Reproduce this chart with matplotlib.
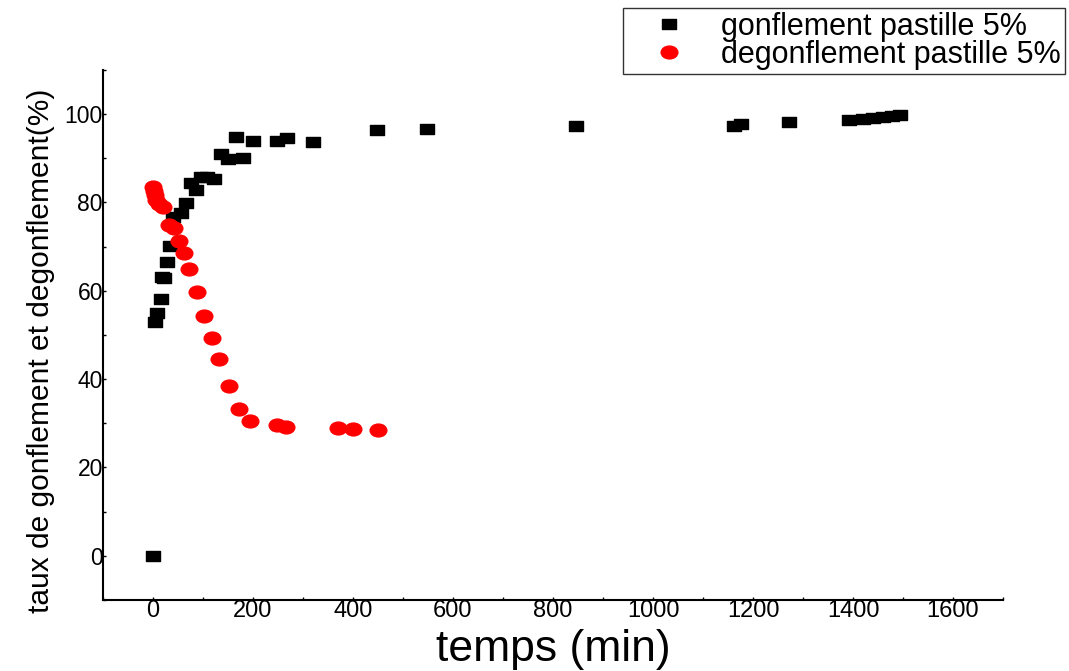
import numpy as np
import matplotlib
matplotlib.use("Agg")
import matplotlib.pyplot as plt
from matplotlib.path import Path
from matplotlib.transforms import Affine2D
from matplotlib.ticker import MultipleLocator

# gonflement (swelling) - time in min, rate in %
t_gonf = [0, 4, 8, 16, 18, 22, 28, 34, 41, 56, 66, 76, 86, 96, 109, 122,
          136, 151, 166, 181, 201, 249, 268, 321, 449, 549, 846, 1161,
          1175, 1272, 1392, 1420, 1440, 1460, 1478, 1494]
y_gonf = [0, 53.0, 55.0, 58.1, 63.2, 62.8, 66.6, 70.2, 76.6, 77.5, 79.8,
          84.4, 82.8, 85.8, 85.8, 85.2, 90.9, 89.9, 94.9, 90.1, 93.9, 94.0,
          94.6, 93.7, 96.3, 96.7, 97.2, 97.4, 97.7, 98.3, 98.7, 99.0, 99.2,
          99.4, 99.5, 99.7]

# degonflement (deswelling)
t_degonf = [0, 2, 4, 7, 12, 20, 33, 43, 53, 63, 73, 88, 102, 118, 133,
            153, 173, 194, 249, 266, 370, 400, 450]
y_degonf = [83.5, 82.6, 81.6, 80.6, 79.6, 79.0, 74.9, 74.3, 71.3, 68.6,
            64.9, 59.8, 54.4, 49.2, 44.5, 38.4, 33.3, 30.5, 29.6, 29.2,
            28.9, 28.8, 28.5]

# markers look a bit wider than tall in the original
square = Path.unit_rectangle().transformed(Affine2D().translate(-0.5, -0.5).scale(1.27, 1.0))
ellipse = Path.unit_circle().transformed(Affine2D().scale(1.3, 1.0))

plt.rcParams['font.family'] = ['Liberation Sans', 'DejaVu Sans']

fig = plt.figure(figsize=(10.69, 6.71), dpi=100)
ax = fig.add_axes([0.0963, 0.1058, 0.842, 0.790])

ax.plot(t_gonf, y_gonf, linestyle='none', marker=square, markersize=10,
        color='black', label='gonflement pastille 5%')
ax.plot(t_degonf, y_degonf, linestyle='none', marker=ellipse, markersize=12,
        color='red', label='degonflement pastille 5%')

ax.set_xlim(-100, 1700)
ax.set_ylim(-10, 110)
ax.xaxis.set_major_locator(MultipleLocator(200))
ax.xaxis.set_minor_locator(MultipleLocator(100))
ax.yaxis.set_major_locator(MultipleLocator(20))
ax.yaxis.set_minor_locator(MultipleLocator(10))

for s in ['top', 'right']:
    ax.spines[s].set_visible(False)
for s in ['left', 'bottom']:
    ax.spines[s].set_linewidth(1.5)

ax.tick_params(which='both', direction='in', length=2, width=1, pad=0)
ax.tick_params(axis='x', labelsize=17)
ax.tick_params(axis='y', labelsize=16.5)

ax.set_xlabel('temps (min)', fontsize=32, labelpad=5)
ax.set_ylabel('taux de gonflement et degonflement(%)', fontsize=21.5)
ax.yaxis.set_label_coords(-0.053, 0.47)

leg = fig.legend(loc='upper right', bbox_to_anchor=(0.996, 0.988), fontsize=22,
                 frameon=True, fancybox=False, borderaxespad=0, handletextpad=0.3,
                 borderpad=0.12, labelspacing=-0.05, handlelength=2.8)
leg.get_frame().set_edgecolor('black')
leg.get_frame().set_linewidth(1.0)

fig.savefig('out.png', dpi=100)
